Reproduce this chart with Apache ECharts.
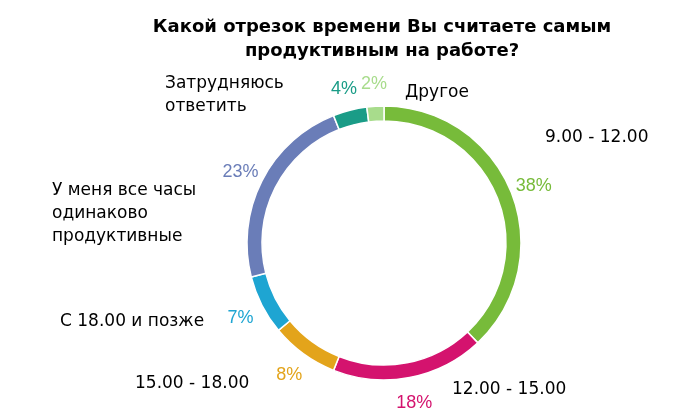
<!DOCTYPE html>
<html>
<head>
<meta charset="utf-8">
<script src="https://cdn.jsdelivr.net/npm/echarts@6/dist/echarts.min.js"></script>
<style>
html,body{margin:0;padding:0;background:#fff;}
#chart{width:700px;height:420px;}
</style>
</head>
<body>
<div id="chart"></div>
<script>
var categories = ['9.00 - 12.00', '12.00 - 15.00', '15.00 - 18.00', 'С 18.00 и позже', 'У меня все часы\nодинаково\nпродуктивные', 'Затрудняюсь\nответить', 'Другое'];
var values = [38, 18, 8, 7, 23, 4, 2];
var colors = ['#77bb3a', '#d4136e', '#e3a41b', '#1ea5d2', '#6a7db8', '#1a9c87', '#a8dc8c'];
var titleText = 'Какой отрезок времени Вы считаете самым\nпродуктивным на работе?';

var FONT = '"DejaVu Sans", "Liberation Sans", Arial, sans-serif';
var PFONT = '"Liberation Sans", Arial, sans-serif';
var cx = 384, cy = 243;
// category label anchors (layout only)
var nameLayout = [
  {x: 545, y: 138},
  {x: 452, y: 390},
  {x: 135, y: 384},
  {x: 60,  y: 322},
  {x: 52,  y: 214},
  {x: 165, y: 95},
  {x: 405, y: 93}
];

var chart = echarts.init(document.getElementById('chart'));
var ringData = values.map(function (v, i) {
  return {value: v, name: categories[i], itemStyle: {color: colors[i]}};
});
var pctData = values.map(function (v, i) {
  return {value: v, name: categories[i], label: {color: colors[i]}};
});
var graphics = categories.map(function (c, i) {
  var L = nameLayout[i];
  return {
    type: 'text', x: L.x, y: L.y, silent: true,
    style: {text: c, font: '17px ' + FONT, fill: '#000', textAlign: 'left', textVerticalAlign: 'middle', lineHeight: 23}
  };
});
graphics.push({
  type: 'text', x: 382, y: 39, silent: true,
  style: {text: titleText, font: 'bold 18px ' + FONT, fill: '#000', textAlign: 'center', textVerticalAlign: 'middle', lineHeight: 24}
});

chart.setOption({
  animation: false,
  graphic: graphics,
  series: [
    {
      type: 'pie', center: [cx, cy], radius: [122, 137], startAngle: 90, clockwise: true,
      silent: true, label: {show: false}, labelLine: {show: false},
      itemStyle: {borderColor: '#fff', borderWidth: 1.5},
      data: ringData
    },
    {
      type: 'pie', center: [cx, cy + 2], radius: [146, 170], startAngle: 90, clockwise: true,
      silent: true, itemStyle: {color: 'rgba(0,0,0,0)'}, labelLine: {show: false},
      label: {show: true, position: 'inside', fontFamily: PFONT, fontSize: 18,
        formatter: function (p) { return p.value + '%'; }},
      data: pctData
    }
  ]
});
</script>
</body>
</html>
